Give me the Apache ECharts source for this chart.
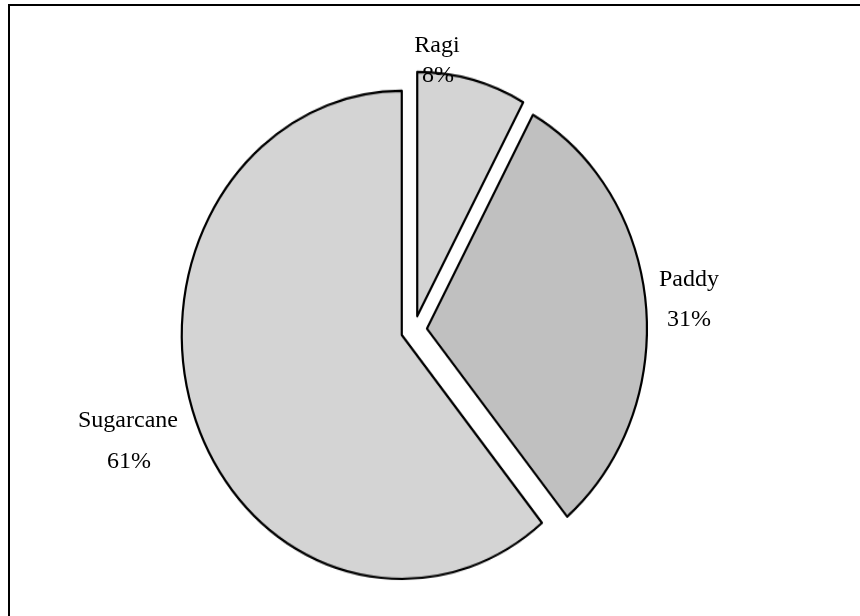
<!DOCTYPE html>
<html>
<head>
<meta charset="utf-8">
<script src="https://cdn.jsdelivr.net/npm/echarts@6/dist/echarts.min.js"></script>
<style>
  html, body { margin: 0; padding: 0; background: #fff; }
  #wrap { position: relative; width: 860px; height: 616px; overflow: hidden; }
  /* the pie layer is stretched vertically so the circle becomes a tall ellipse */
  #pie { position: absolute; left: 0; top: 0; width: 860px; height: 616px;
         transform-origin: 0 0; transform: scaleY(1.109); }
  #ann { position: absolute; left: 0; top: 0; width: 860px; height: 616px; }
</style>
</head>
<body>
<div id="wrap"><div id="pie"></div><div id="ann"></div></div>
<script>
// crop shares of cultivated area
const crops = ['Ragi', 'Paddy', 'Sugarcane'];
const shares = [8, 31, 61];
const sliceColors = ['#d4d4d4', '#c0c0c0', '#d4d4d4'];

const STRETCH = 1.109;
const total = shares.reduce((a, b) => a + b, 0);
const pct = shares.map(v => Math.round(v / total * 100) + '%');

const pie = echarts.init(document.getElementById('pie'), null, { renderer: 'canvas' });
pie.setOption({
  animation: false,
  series: [{
    type: 'pie',
    center: [414, 330 / STRETCH],
    radius: 220,
    startAngle: 90,
    clockwise: true,
    selectedMode: 'multiple',
    selectedOffset: 13,
    label: { show: false },
    labelLine: { show: false },
    emphasis: { disabled: true },
    itemStyle: { borderColor: '#000', borderWidth: 2.2 },
    data: crops.map((name, i) => ({
      name: name,
      value: shares[i],
      selected: true,
      itemStyle: { color: sliceColors[i] }
    }))
  }]
});

// frame and category labels, drawn unstretched on top
const labelPos = [[437, 46, 438, 76], [689, 280, 689, 320], [128, 421, 129, 462]];
const font = { fontFamily: 'Liberation Serif', fontSize: 24, fill: '#000' };
const texts = [];
crops.forEach((name, i) => {
  const p = labelPos[i];
  texts.push({ type: 'text', x: p[0], y: p[1],
    style: Object.assign({ text: name, align: 'center', verticalAlign: 'middle' }, font) });
  texts.push({ type: 'text', x: p[2], y: p[3],
    style: Object.assign({ text: pct[i], align: 'center', verticalAlign: 'middle' }, font) });
});

const ann = echarts.init(document.getElementById('ann'), null, { renderer: 'canvas' });
ann.setOption({
  animation: false,
  graphic: [
    { type: 'rect', shape: { x: 9, y: 5, width: 900, height: 700 },
      style: { fill: 'none', stroke: '#000', lineWidth: 2 } }
  ].concat(texts)
});
</script>
</body>
</html>
